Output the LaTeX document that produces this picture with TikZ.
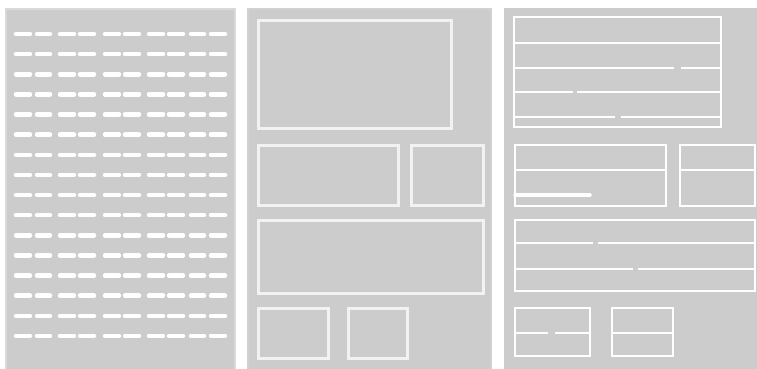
\documentclass[tikz,border=0pt]{standalone}
\usetikzlibrary{calc}
\definecolor{panelgray}{HTML}{CCCCCC}
\definecolor{panelrim}{HTML}{D9D9D9}
\definecolor{wire}{HTML}{F2F2F2}

\begin{document}
\begin{tikzpicture}[x=1pt,y=-1pt,
 panel/.style={fill=panelgray,draw=panelrim,line width=2.5pt},
 dashline/.style={white,line width=4.5pt,line cap=round},
 wireframe/.style={draw=wire,line width=3pt},
 rule/.style={draw=white,line width=2.5pt}]
\useasboundingbox[fill=white] (0,0) rectangle (757,368);
% three panels
\draw[panel] (6.2,9.2) rectangle (234.8,372);
\draw[panel,draw=panelgray!60!panelrim] (248.2,9.2) rectangle (491,372);
\fill[panelgray] (504,8) rectangle (760,372);
% panel 1: rows of dashes
\foreach \i in {0,...,15}
 \foreach \a/\b in {14/32,35/52,58/76,78/96,103/121,123/141,147/165,167/185,189/206,209/227}
  \draw[dashline] ({\a+2},{34+20.13*\i}) -- ({\b-2},{34+20.13*\i});
% panel 2: block outlines
\foreach \a/\b/\c/\d in {258/20/451/128,258/145/398/205,411/145/483/205,258/220/483/293,258/308/328/358,348/308/407/358}
 \draw[wireframe] (\a,\b) rectangle (\c,\d);
% panel 3: tables
\foreach \a/\b/\c/\d in {514/17/721/127,515/145/666/206,680/145/755/206,515/220/755/291,515/308/590/356,612/308/673/356}
 \draw[rule] (\a,\b) rectangle (\c,\d);
\foreach \x/\xx/\y in {514/721/43,514/674/68,681/721/68,514/573/92,577/721/92,514/615/117,621/721/117,
 515/666/170,680/755/170,515/593/243,598/755/243,515/633/269,638/755/269,515/548/333,555/590/333,612/673/333}
 \draw[rule] (\x,\y) -- (\xx,\y);
\draw[rule,line width=3.5pt,line cap=round] (515,195) -- (590,195);
\end{tikzpicture}
\end{document}
